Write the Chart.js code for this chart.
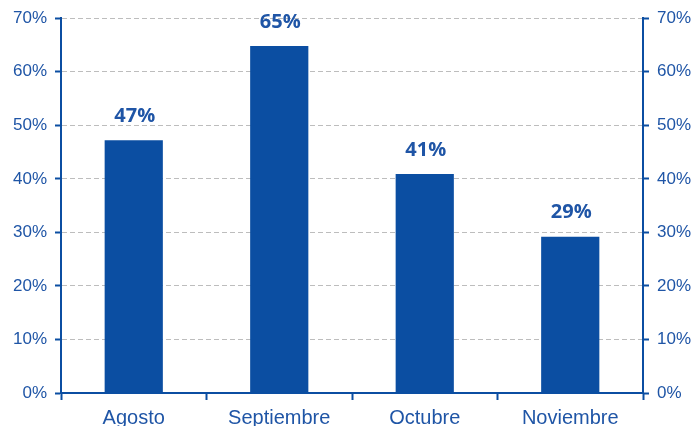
<!DOCTYPE html>
<html>
<head>
<meta charset="utf-8">
<script src="https://cdn.jsdelivr.net/npm/chart.js@4"></script>
<style>
  html, body { margin: 0; padding: 0; background: #fff; overflow: hidden; }
  #wrap { width: 697px; height: 426px; }
</style>
</head>
<body>
<div id="wrap"><canvas id="chart"></canvas></div>
<script>
const months = ["Agosto", "Septiembre", "Octubre", "Noviembre"];
const values = [47.2, 64.8, 40.9, 29.2];
const yTicks = [0, 10, 20, 30, 40, 50, 60, 70];

const blue = "#0B4EA2";
const textBlue = "#1F55A6";

// draws the rounded percentage above each bar
const barLabels = {
    id: "barLabels",
    afterDatasetsDraw(chart) {
        const ctx = chart.ctx;
        const meta = chart.getDatasetMeta(0);
        ctx.save();
        ctx.fillStyle = textBlue;
        ctx.font = "bold 20px 'Open Sans'";
        ctx.textAlign = "center";
        ctx.textBaseline = "middle";
        meta.data.forEach((bar, i) => {
            ctx.fillText(Math.round(values[i]) + "%", bar.x + 1, bar.y - 24);
        });
        ctx.restore();
    }
};

function yAxis(position, grid) {
    return {
        position: position,
        min: 0,
        max: 70,
        afterBuildTicks: s => { s.ticks = yTicks.map(v => ({ value: v })); },
        afterFit: s => { s.width = position === "left" ? 61 : 54; },
        ticks: {
            color: textBlue,
            font: { family: "'Liberation Sans', Arial", size: 17 },
            padding: 8,
            callback: v => v + "%"
        },
        grid: {
            drawOnChartArea: grid,
            color: "#BDBDBD",
            lineWidth: 1,
            tickColor: blue,
            tickLength: 6,
            tickWidth: 2,
            tickBorderDash: []
        },
        border: { color: blue, width: 2, dash: [5, 3] }
    };
}

new Chart("chart", {
    type: "bar",
    data: {
        labels: months,
        datasets: [{
            data: values,
            backgroundColor: blue,
            categoryPercentage: 1,
            barPercentage: 0.4
        }]
    },
    plugins: [barLabels],
    options: {
        responsive: true,
        maintainAspectRatio: false,
        animation: false,
        layout: { padding: { top: 18 } },
        plugins: { legend: { display: false }, tooltip: { enabled: false } },
        scales: {
            x: {
                afterFit: s => { s.height = 33; },
                ticks: {
                    color: textBlue,
                    font: { family: "'Liberation Sans', Arial", size: 20 },
                    padding: 6
                },
                grid: {
                    drawOnChartArea: false,
                    tickColor: blue,
                    tickLength: 7,
                    tickWidth: 2,
                    offset: true
                },
                border: { color: blue, width: 2 }
            },
            y: yAxis("left", true),
            y2: yAxis("right", false)
        }
    }
});
</script>
</body>
</html>
